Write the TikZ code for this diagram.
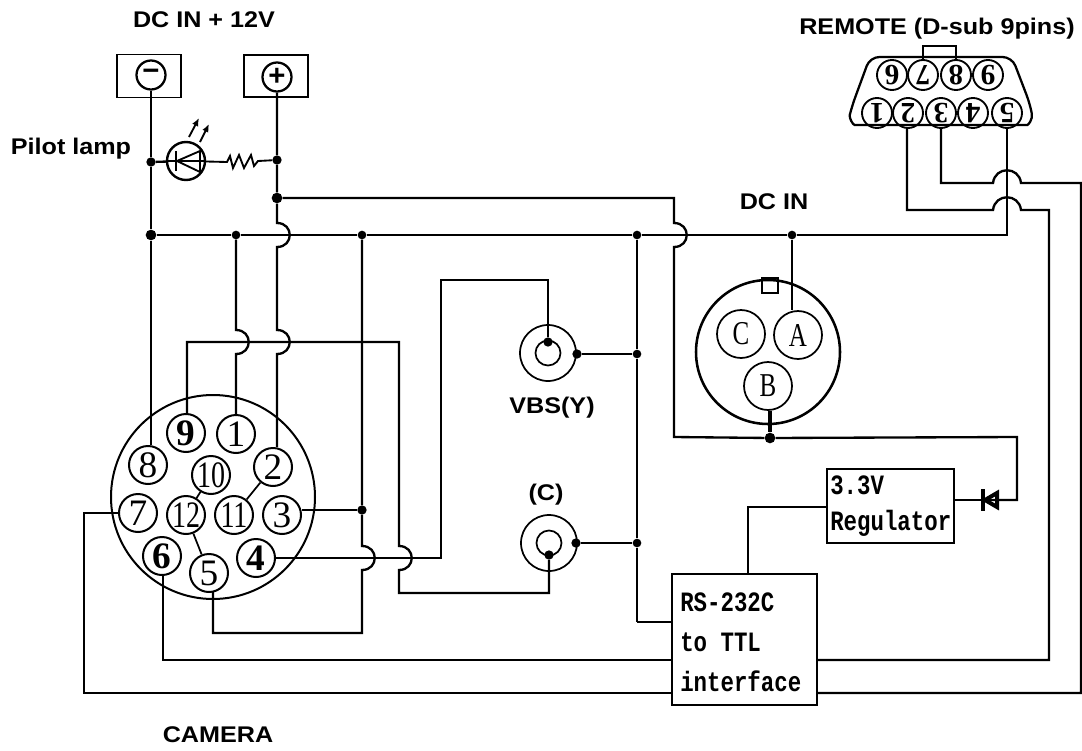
\documentclass[tikz,border=0pt]{standalone}
\usepackage{fontspec}
\usetikzlibrary{arrows.meta}
\setmainfont{Liberation Sans}
\newfontfamily\pinfont{Liberation Serif}
\newfontfamily\boxfont{Liberation Mono}
\newcommand{\vjump}[1]{-- ([shift={(0,-12)}]#1) .. controls ([shift={(17,-12)}]#1) and ([shift={(17,12)}]#1) .. ([shift={(0,12)}]#1)}
\newcommand{\boxt}[1]{\scalebox{0.8}[1]{#1}}
\newcommand{\lbt}[1]{\scalebox{1.11}[1]{#1}}
\newcommand{\dint}[1]{\scalebox{0.75}[1]{#1}}
\tikzset{
  wire/.style={line width=1.75pt,line join=miter},
  thin wire/.style={line width=1.3pt},
  pin/.style={circle,draw,line width=1.5pt,minimum size=38*0.75pt,inner sep=0pt,font=\pinfont\fontsize{28}{30}\selectfont},
  subpin/.style={circle,draw,line width=1.4pt,minimum size=30*0.75pt,inner sep=0pt,font=\pinfont\bfseries\fontsize{22}{24}\selectfont,rotate=180},
  din/.style={circle,draw,line width=1.3pt,minimum size=48*0.75pt,inner sep=0pt,font=\pinfont\fontsize{25}{27}\selectfont},
  jdot/.style={circle,fill=black,inner sep=0pt,minimum size=8pt},
  sdot/.style={circle,fill=black,inner sep=0pt,minimum size=6.5pt},
  label/.style={font=\bfseries\fontsize{17}{19}\selectfont,inner sep=0pt},
  boxtxt/.style={font=\boxfont\bfseries\fontsize{21}{24}\selectfont,inner sep=0pt,anchor=west},
  blockbox/.style={draw,line width=1.75pt,inner sep=0pt,fill=white},
  powerbox/.style={draw,line width=1.3pt,inner sep=0pt},
  terminal/.style={circle,draw,line width=1.7pt,minimum size=29*0.75pt,inner sep=0pt,font=\bfseries\fontsize{22}{22}\selectfont},
}
\begin{document}
\begin{tikzpicture}[x=0.75pt,y=-0.75pt]
\useasboundingbox (0,0) rectangle (1082,750);
% labels
\node[label] (lbdc) at (204,20) {\lbt{DC IN + 12V}};
\node[label] (lbrem) at (937,29) {\lbt{REMOTE (D-sub 9pins)}};
\node[label] (lbpil) at (71,149) {\lbt{Pilot lamp}};
\node[label] (lbdc2) at (774,202) {\lbt{DC IN}};
\node[label] (lbvbs) at (552,408) {\lbt{VBS(Y)}};
\node[label] (lbc) at (546,495) {\lbt{(C)}};
\node[label] (lbcam) at (218,735) {\lbt{CAMERA}};
% DC terminals
\node[powerbox,minimum width=64*0.75pt,minimum height=43*0.75pt] (boxm) at (149,76) {};
\node[powerbox,minimum width=64*0.75pt,minimum height=42*0.75pt] (boxp) at (276,76) {};
\node[terminal] (tm) at (151,75) {−};
\node[terminal] (tp) at (277,77) {+};
% camera connector
\node[circle,draw,line width=1.5pt,minimum size=204*0.75pt,inner sep=0pt] (cam) at (213,497) {};
\node[pin] (p9) at (186,433) {\bfseries 9};
\node[pin] (p1) at (236,434) {1};
\node[pin] (p2) at (273,467) {2};
\node[pin] (p8) at (148,465) {8};
\node[pin] (p10) at (211,475) {\scalebox{0.75}[1]{10}};
\node[pin] (p7) at (138,513) {7};
\node[pin] (p12) at (186,515) {\scalebox{0.75}[1]{12}};
\node[pin] (p11) at (234,515) {\scalebox{0.75}[1]{11}};
\node[pin] (p3) at (282,515) {3};
\node[pin] (p6) at (162,556) {\bfseries 6};
\node[pin] (p5) at (209,573) {5};
\node[pin] (p4) at (256,558) {\bfseries 4};
\draw[thin wire] (p10) -- (p12);
\draw[thin wire] (p12) -- (p5);
\draw[thin wire] (p2) -- (p11);
% jacks
\node[circle,draw,line width=1.3pt,minimum size=56*0.75pt,inner sep=0pt] (vo) at (548,353) {};
\node[circle,draw,line width=1.3pt,minimum size=25*0.75pt,inner sep=0pt] (vi) at (548,353) {};
\node[circle,draw,line width=1.3pt,minimum size=56*0.75pt,inner sep=0pt] (co) at (549,543) {};
\node[circle,draw,line width=1.3pt,minimum size=25*0.75pt,inner sep=0pt] (ci) at (549,543) {};
\node[sdot,minimum size=7pt] (vtop) at (548,342) {};
\node[sdot,minimum size=7pt] (vr) at (577,354) {};
\node[sdot,minimum size=7pt] (cbot) at (549,555) {};
\node[sdot,minimum size=7pt] (cr) at (576,543) {};
% DC IN connector
\node[circle,draw,line width=1.9pt,minimum size=144*0.75pt,inner sep=0pt] (din) at (768,352) {};
\node[draw,line width=1.1pt,minimum width=16*0.75pt,minimum height=15*0.75pt,inner sep=0pt] (notch) at (770,285.5) {};
\node[din] (dc) at (741,334) {\dint{C}};
\node[din] (da) at (798,335) {\dint{A}};
\node[din] (db) at (768,386) {\dint{B}};
% remote connector
\draw[line width=1.7pt,rounded corners=7pt] (870,57) -- (1012,57) -- (1030,104) .. controls (1033,120) and (1028,125) .. (1018,125) -- (864,125) .. controls (853,125) and (849,118) .. (852,106) -- cycle;
\node[subpin] (r6) at (892,75) {6};
\node[subpin] (r7) at (923,75) {7};
\node[subpin] (r8) at (956,75) {8};
\node[subpin] (r9) at (988,75) {9};
\node[subpin] (r1) at (877,113) {1};
\node[subpin] (r2) at (908,113) {2};
\node[subpin] (r3) at (941,113) {3};
\node[subpin] (r4) at (973,113) {4};
\node[subpin] (r5) at (1007,113) {5};
\draw[thin wire] (923,60) |- (956,46) -- (956,60);
% junctions
\node[jdot,minimum size=7pt] (n1) at (151,162) {};
\node[jdot,minimum size=7pt] (n2) at (277,160) {};
\node[jdot] (n3) at (277,198) {};
\node[jdot] (n4) at (151,235) {};
\node[sdot] (n5) at (236,235) {};
\node[sdot] (n6) at (362,235) {};
\node[sdot] (n7) at (637,235) {};
\node[sdot] (n8) at (792,235) {};
\node[sdot] (n9) at (637,354) {};
\node[sdot] (n10) at (637,543) {};
\node[jdot,minimum size=7pt] (n11) at (362,510) {};
\node[jdot] (n12) at (770,438) {};
\coordinate (j1) at (277,235);
\coordinate (j2) at (236,342);
\coordinate (j3) at (277,342);
\coordinate (j4) at (362,558);
\coordinate (j5) at (399,558);
\coordinate (j6) at (674,235);
\coordinate (j7) at (1007,183);
\coordinate (j8) at (1007,210);
% wires
\draw[wire] (tm) -- (n1) -- (n4) -- (p8.north -| n4);
\draw[wire] (tp) -- (n2) -- (n3) \vjump{j1} \vjump{j3} -- (p2.north -| j3);
\draw[wire] (n4) -- (n5) -- (n6) -- (n7) -- (n8) -- (1007,235) -- (r5);
\draw[wire] (n5) \vjump{j2} -- (p1);
\draw[wire] (n6) -- (n11) \vjump{j4} -- (362,633) -| (213,592);
\draw[wire] (n11) -- (n11 -| p3.east);
\draw[wire] (187,414) -- (187,342) -- (399,342) \vjump{j5} -- (399,593) -| (cbot);
\draw[wire] (p4) -- (441,558) |- (548,280) -- (vtop);
\draw[wire] (vr) -- (n9);
\draw[wire] (cr) -- (n10);
\draw[wire] (n7) -- (n9) -- (n10) -- (637,622);
% LED and resistor
\node[circle,draw,line width=1.8pt,minimum size=38*0.75pt,inner sep=0pt] (led) at (186,161) {};
\draw[wire] (n1) -- (led);
\draw[line width=1.4pt] (led) -- (227,162) -- (230,156) -- (233,168) -- (239,155) -- (244,168) -- (251,155) -- (254,166) -- (258,161) -- (n2);
\draw[line width=1.4pt] (176,151) -- (176,171);
\draw[line width=1.4pt] (177,161) -- (200,151) -- (200,172) -- cycle;
\draw[line width=1.4pt] (168,161) -- (204,161);
\draw[line width=1.4pt,-{Latex[length=6pt,width=5pt]}] (189,137) -- (199,118);
\draw[line width=1.4pt,-{Latex[length=6pt,width=5pt]}] (200,142) -- (209,124);
% boxes
\node[blockbox,minimum width=145*0.75pt,minimum height=131*0.75pt] (rs) at (744.5,639.5) {};
\node[blockbox,minimum width=127*0.75pt,minimum height=74*0.75pt] (reg) at (890.5,506) {};
\node[boxtxt] (t1) at (680,602) {\boxt{RS-232C}};
\node[boxtxt] (t2) at (680,642) {\boxt{to TTL}};
\node[boxtxt] (t3) at (680,681) {\boxt{interface}};
\node[boxtxt] (t4) at (830,485) {\boxt{3.3V}};
\node[boxtxt] (t5) at (830,523) {\boxt{Regulator}};
% power to regulator
\draw[wire] (n3) -- (674,198) \vjump{j6} -- (674,437) -- (n12);
\draw[wire] (n12) -- (1017,437) -- (1017,500) -- (983,500) coordinate (dk);
\draw[wire] (dk) -- (reg.east |- dk);
\draw[line width=2.6pt] (dk) ++(0,-11) -- ++(0,22);
\draw[line width=3pt] (985,500) -- (997,493) -- (997,507) -- cycle;
\draw[line width=2.8pt] (n12 |- db.south) -- (n12);
\draw[wire] (n8) -- (da.north -| n8);
\draw[wire] (reg.west |- 0,507) -- (748,507) -- (rs.north -| 748,0);
\draw[wire] (637,622) -- (rs.west |- 0,622);
% long wires
\draw[wire] (163,575) -- (163,660) -- (rs.west |- 0,660);
\draw[wire] (rs.east |- 0,660) -- (1049,660) -- (1049,210) -- ([shift={(14,0)}]j8) .. controls ([shift={(12,-17)}]j8) and ([shift={(-12,-17)}]j8) .. ([shift={(-14,0)}]j8) -- (907,210) -- (907,128);
\draw[wire] (p7) -- (84,513) -- (84,693) -- (rs.west |- 0,693);
\draw[wire] (rs.east |- 0,693) -- (1081,693) -- (1081,183) -- ([shift={(14,0)}]j7) .. controls ([shift={(12,-17)}]j7) and ([shift={(-12,-17)}]j7) .. ([shift={(-14,0)}]j7) -- (941,183) -- (941,128);
\end{tikzpicture}
\end{document}
